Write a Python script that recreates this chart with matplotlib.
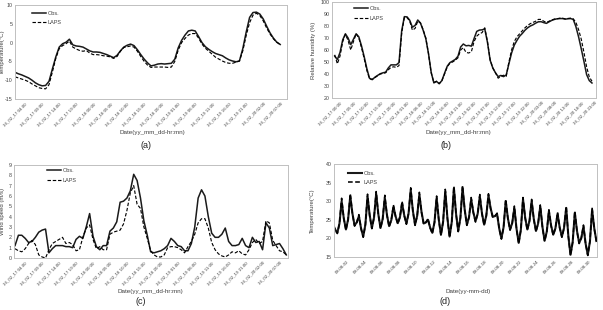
import matplotlib
matplotlib.use("Agg")
import matplotlib.pyplot as plt
import numpy as np

plt.rcParams['font.family'] = ['Liberation Sans', 'DejaVu Sans']
plt.rcParams['axes.unicode_minus'] = False

# (a) temperature, hourly, from 16_02_17 01:00
temp_obs = [-7.9, -8.3, -8.6, -9.0, -9.4, -10.0, -10.7, -11.2, -11.5, -11.4,
            -10.3, -7.0, -3.8, -1.2, -0.3, 0.1, 0.9, -0.6, -0.9, -1.0,
            -1.2, -1.7, -2.2, -2.5, -2.5, -2.6, -2.9, -3.2, -3.6, -4.0,
            -3.4, -2.2, -1.2, -0.7, -0.4, -0.8, -1.9, -3.2, -4.4, -5.4,
            -6.2, -6.0, -5.7, -5.6, -5.7, -5.6, -5.5, -4.4, -1.4, 0.6,
            2.0, 3.1, 3.3, 3.1, 1.6, 0.0, -1.1, -1.8, -2.4, -2.9,
            -3.2, -3.5, -4.1, -4.6, -4.9, -5.1, -4.9, -1.6, 2.8, 6.7,
            8.0, 8.1, 7.6, 6.3, 4.4, 2.6, 1.2, 0.1, -0.5]
temp_laps = [-9.1, -9.4, -9.7, -10.0, -10.4, -11.0, -11.5, -12.0, -12.2, -12.3,
             -11.2, -7.8, -4.2, -1.6, -0.8, -0.3, 0.4, -1.2, -1.7, -2.1,
             -2.3, -2.1, -2.8, -3.2, -3.2, -3.3, -3.5, -3.6, -3.8, -4.2,
             -3.7, -2.3, -1.3, -1.1, -0.9, -1.2, -2.3, -3.7, -5.0, -6.0,
             -6.6, -6.5, -6.5, -6.5, -6.5, -6.6, -6.5, -5.0, -2.0, 0.0,
             1.1, 2.0, 2.4, 2.4, 1.2, -0.4, -1.5, -2.3, -3.1, -3.9,
             -4.4, -4.9, -5.3, -5.5, -5.5, -5.2, -4.9, -2.2, 1.9, 5.3,
             7.3, 7.8, 7.2, 5.8, 3.9, 2.3, 1.0, 0.1, -0.5]

# (b) relative humidity, hourly
rh_obs = [55.0, 52.0, 58.0, 68.5, 73.5, 70.0, 64.5, 69.0, 73.5, 71.0,
          63.5, 54.5, 44.5, 36.4, 35.3, 37.3, 38.8, 40.2, 41.0, 41.5,
          45.0, 47.6, 47.6, 47.6, 49.5, 76.0, 87.8, 87.6, 84.8, 79.0,
          80.5, 85.0, 82.5, 76.5, 69.5, 57.0, 41.5, 32.6, 33.8, 31.9,
          34.5, 40.7, 46.5, 49.5, 50.8, 52.2, 54.8, 62.5, 65.0, 63.5,
          63.8, 63.2, 69.5, 75.5, 76.6, 76.8, 77.5, 66.5, 51.5, 45.0,
          41.0, 37.8, 38.8, 37.8, 39.2, 48.5, 57.5, 64.0, 68.0, 71.5,
          73.8, 76.5, 78.5, 80.0, 81.0, 82.4, 83.5, 83.6, 82.8, 82.2,
          83.5, 84.7, 85.5, 86.0, 86.2, 86.2, 85.7, 86.0, 86.2, 85.5,
          79.5, 71.0, 61.0, 50.5, 39.5, 34.5, 32.5]
rh_laps = [56.0, 48.5, 55.0, 67.0, 73.0, 68.0, 60.0, 67.0, 73.5, 70.0,
           62.0, 53.0, 43.0, 36.0, 35.5, 37.0, 38.5, 40.0, 40.5, 41.0,
           43.5, 45.5, 46.0, 45.5, 47.0, 74.0, 87.0, 87.0, 84.0, 76.5,
           78.0, 84.0, 82.5, 77.0, 70.0, 57.0, 41.0, 33.0, 34.0, 32.0,
           34.5, 40.0, 46.0, 49.0, 50.0, 51.5, 53.5, 60.0, 62.0, 58.0,
           57.5, 58.5, 67.0, 71.5, 73.5, 74.5, 78.5, 67.0, 52.0, 45.0,
           41.0, 36.5, 38.0, 39.0, 38.0, 50.0, 60.0, 67.0, 71.0, 73.5,
           76.0, 78.5, 80.5, 82.0, 83.0, 84.0, 85.5, 85.5, 84.0, 83.0,
           84.0, 85.0, 85.8, 86.0, 86.5, 86.5, 86.0, 86.3, 86.5, 86.0,
           83.0, 77.0, 69.0, 58.0, 46.0, 37.5, 34.0]

# (c) wind speed, hourly, from 16_02_17 01:00
ws_obs = [1.2, 2.2, 2.2, 1.9, 1.5, 1.6, 2.0, 2.5, 2.7, 2.8,
          0.5, 0.9, 1.2, 1.2, 1.2, 1.1, 1.1, 1.0, 1.8, 2.1,
          1.9, 3.0, 4.3, 2.1, 1.1, 0.8, 1.2, 1.2, 2.6, 2.9,
          3.5, 5.4, 5.5, 5.8, 6.5, 8.1, 7.5, 5.8, 3.6, 2.2,
          0.6, 0.5, 0.6, 0.7, 0.9, 1.2, 1.9, 1.6, 1.2, 1.1,
          0.7, 0.7, 1.4, 3.0, 5.8, 6.6, 6.0, 4.0, 2.4, 2.0,
          2.0, 2.3, 2.9, 1.6, 1.2, 1.2, 1.3, 1.9, 1.2, 1.0,
          2.0, 1.5, 1.6, 0.8, 3.4, 2.9, 1.2, 1.3, 1.4, 0.9, 0.3]
ws_laps = [0.9, 0.7, 0.6, 0.9, 1.4, 1.7, 1.3, 0.3, 0.1, 0.0,
           0.8, 1.4, 1.6, 1.8, 2.0, 1.4, 1.5, 1.3, 0.7, 0.8,
           2.0, 2.9, 3.2, 1.8, 0.9, 1.1, 0.8, 0.8, 2.3, 2.5,
           2.6, 2.7, 3.3, 4.6, 6.3, 7.0, 5.2, 4.8, 3.0, 1.9,
           0.7, 0.3, 0.1, 0.1, 0.3, 1.0, 1.1, 1.1, 1.0, 0.8,
           0.5, 1.1, 1.6, 2.3, 3.4, 3.8, 3.8, 2.9, 1.5, 0.8,
           0.4, 0.2, 0.1, 0.3, 0.6, 0.5, 0.7, 0.4, 0.3, 0.8,
           1.5, 1.8, 1.4, 1.6, 3.6, 3.4, 1.7, 1.2, 0.7, 0.6, 0.3]

# (d) temperature, August, every 6 hours (peaks / troughs / shoulders)
d_obs = [23.8, 22.4, 21.5, 24.0, 30.0, 25.4, 22.4, 25.1, 31.4, 26.7,
         23.5, 24.3, 26.0, 22.7, 20.5, 23.7, 31.3, 26.2, 22.8, 25.6,
         32.0, 26.5, 22.8, 25.2, 30.9, 26.3, 23.3, 24.9, 28.5, 25.9,
         24.1, 25.7, 29.4, 26.2, 24.0, 26.7, 33.0, 27.4, 23.7, 26.1,
         31.8, 27.1, 24.0, 24.3, 25.0, 22.9, 21.5, 24.3, 30.9, 25.0,
         21.0, 24.5, 32.7, 25.4, 20.5, 24.4, 33.5, 26.6, 22.0, 25.5,
         33.7, 27.7, 23.7, 25.7, 30.5, 27.0, 24.6, 26.6, 31.3, 26.7,
         23.7, 26.1, 31.6, 28.1, 25.8, 26.0, 26.5, 22.6, 20.0, 23.0,
         30.0, 25.4, 22.4, 24.1, 28.2, 22.6, 18.8, 22.3, 30.5, 25.6,
         22.4, 24.7, 30.0, 25.2, 22.0, 24.0, 28.6, 23.1, 19.4, 21.8,
         27.3, 23.5, 21.0, 22.7, 26.6, 22.9, 20.5, 22.8, 28.2, 20.6,
         15.6, 19.0, 26.9, 22.0, 18.8, 20.1, 23.2, 18.6, 15.6, 19.2,
         27.7, 22.7, 19.3]
d_laps = [23.6, 22.3, 21.3, 24.0, 30.8, 25.3, 22.2, 25.1, 32.0, 26.6,
          23.3, 24.2, 26.4, 22.6, 20.3, 23.7, 31.9, 26.1, 22.6, 25.6,
          32.6, 26.4, 22.6, 25.2, 31.6, 26.2, 23.1, 24.9, 29.0, 25.8,
          23.9, 25.7, 30.0, 26.1, 23.8, 26.7, 33.6, 27.3, 23.5, 26.1,
          32.4, 27.0, 23.8, 24.3, 25.3, 22.8, 21.3, 24.3, 31.4, 24.9,
          20.8, 24.5, 33.2, 25.3, 20.3, 24.4, 34.0, 26.5, 21.8, 25.5,
          34.1, 27.6, 23.5, 25.7, 31.0, 26.9, 24.4, 26.6, 31.8, 26.6,
          23.5, 26.1, 32.0, 28.0, 25.6, 26.0, 26.8, 22.5, 19.8, 23.0,
          30.5, 25.3, 22.2, 24.1, 28.7, 22.5, 18.6, 22.3, 31.0, 25.5,
          22.2, 24.7, 30.5, 25.1, 21.8, 24.0, 29.0, 23.0, 19.2, 21.8,
          27.7, 23.4, 20.8, 22.7, 27.0, 22.8, 20.3, 22.8, 28.6, 20.5,
          15.4, 19.0, 27.3, 21.9, 18.6, 20.1, 23.6, 18.5, 15.4, 19.2,
          28.1, 22.6, 19.1]

labels_ac = ['16_02_17 04:00', '16_02_17 09:00', '16_02_17 14:00', '16_02_17 19:00',
             '16_02_18 00:00', '16_02_18 05:00', '16_02_18 10:00', '16_02_18 15:00',
             '16_02_18 20:00', '16_02_19 01:00', '16_02_19 06:00', '16_02_19 11:00',
             '16_02_19 16:00', '16_02_19 21:00', '16_02_20 02:00', '16_02_20 07:00']
labels_b = ['16_02_17 00:00', '16_02_17 05:00', '16_02_17 10:00', '16_02_17 15:00',
            '16_02_17 20:00', '16_02_18 01:00', '16_02_18 06:00', '16_02_18 11:00',
            '16_02_18 16:00', '16_02_18 21:00', '16_02_19 02:00', '16_02_19 07:00',
            '16_02_19 12:00', '16_02_19 17:00', '16_02_19 22:00', '16_02_20 03:00',
            '16_02_20 08:00', '16_02_20 13:00', '16_02_20 18:00', '16_02_20 23:00']
days_d = [2, 4, 6, 8, 10, 12, 14, 16, 18, 20, 22, 24, 26, 28, 30]
labels_d = ['09-08-%02d' % d for d in days_d]

W, H = 603, 310
fig = plt.figure(figsize=(W / 100, H / 100), dpi=100)

TXT = '#404040'


def rect(l, t, r, b):
    return [l / W, 1 - b / H, (r - l) / W, (b - t) / H]


def panel(box, x, obs, laps, xlim, ylim, yticks, xticks, xlabels, ylabel,
          ylabel_x, leg_at, lw=1.1):
    ax = fig.add_axes(rect(*box))
    ax.plot(x, obs, color='#1a1a1a', lw=lw, label='Obs.')
    ax.plot(x, laps, color='#000000', lw=lw * 0.75, ls=(0, (3, 1.6)), label='LAPS')
    ax.set_xlim(*xlim)
    ax.set_ylim(*ylim)
    ax.set_yticks(yticks)
    ax.set_xticks(xticks)
    ax.set_xticklabels(xlabels, rotation=45, ha='right', rotation_mode='anchor',
                       fontsize=3.2, color=TXT)
    ax.tick_params(axis='y', labelsize=3.8, colors=TXT, length=0, pad=1.5)
    ax.tick_params(axis='x', length=0, pad=2)
    for s in ax.spines.values():
        s.set_color('#c0c0c0')
        s.set_linewidth(0.7)
    ax.set_ylabel(ylabel, fontsize=4.3, color=TXT)
    ax.yaxis.set_label_coords((ylabel_x - box[0]) / (box[2] - box[0]), 0.5)
    leg = ax.legend(loc='upper left', bbox_to_anchor=leg_at, fontsize=4,
                    frameon=False, handlelength=2.4, handletextpad=0.4,
                    labelspacing=0.8, borderaxespad=0)
    for t in leg.get_texts():
        t.set_color(TXT)
    return ax


# (a)
xa = np.arange(len(temp_obs))
panel((15, 5, 287, 99), xa, temp_obs, temp_laps, (0, 80), (-15, 10),
      [10, 5, 0, -5, -10, -15], np.arange(3, 80, 5), labels_ac, 'Temperature(°C)',
      5, (0.055, 0.96))

# (b)
xb = np.arange(len(rh_obs))
panel((332, 2, 596, 98), xb, rh_obs, rh_laps, (-1, 97.5), (20, 100),
      np.arange(20, 101, 10), np.arange(2, 98, 5), labels_b, 'Relative humidity (%)',
      316, (0.076, 0.98))

# (c)
xc = np.arange(len(ws_obs))
panel((14, 165, 288, 258), xc, ws_obs, ws_laps, (-0.3, 80.5), (0, 9),
      np.arange(0, 10, 1), np.arange(3, 80, 5), labels_ac, 'Wind speed (m/s)',
      5, (0.113, 0.99))

# (d)
xd = 1 / 3 + 0.25 * np.arange(len(d_obs))
panel((334, 164, 597, 257), xd, d_obs, d_laps, (0.45, 30.9), (15, 40),
      np.arange(15, 41, 5), days_d, labels_d, 'Temperature(°C)',
      315, (0.046, 0.95), lw=1.5)

fig.text(152 / W, 1 - 133 / H, 'Date(yy_mm_dd-hr:mn)', fontsize=4.5, color=TXT,
         ha='center', va='center')
fig.text(458 / W, 1 - 133 / H, 'Date(yy_mm_dd-hr:mn)', fontsize=4.5, color=TXT,
         ha='center', va='center')
fig.text(150 / W, 1 - 291 / H, 'Date(yy_mm_dd-hr:mn)', fontsize=4.5, color=TXT,
         ha='center', va='center')
fig.text(468 / W, 1 - 291 / H, 'Date(yy-mm-dd)', fontsize=4.5, color=TXT,
         ha='center', va='center')

for x, y, s in [(146, 146, '(a)'), (446, 146, '(b)'), (141, 301, '(c)'), (445, 302, '(d)')]:
    fig.text(x / W, 1 - y / H, s, fontsize=6.5, color='#222222', ha='center', va='center')

fig.savefig('out.png', dpi=100)
